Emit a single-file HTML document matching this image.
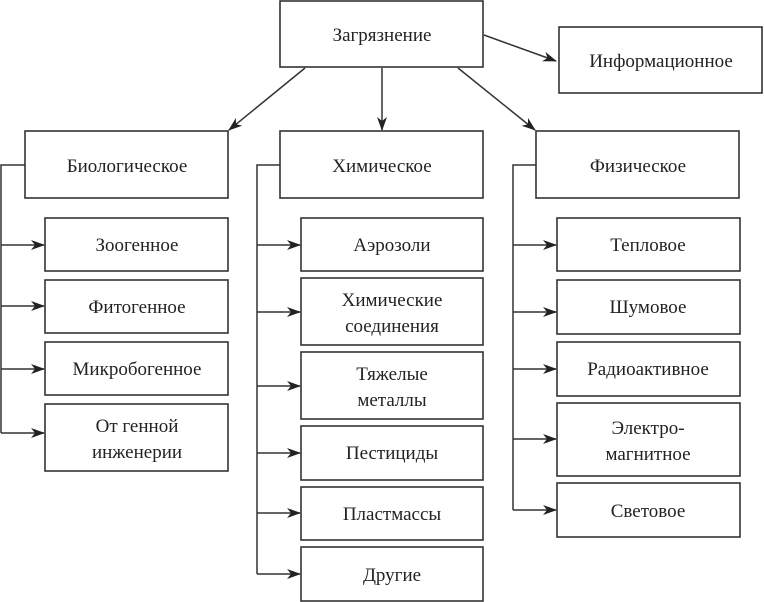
<!DOCTYPE html>
<html><head><meta charset="utf-8"><style>
html,body{margin:0;padding:0;background:#fff;}
svg{display:block;}
text{font-family:"Liberation Serif","DejaVu Serif",serif;font-size:19px;fill:#222;text-anchor:middle;}
rect{fill:#fff;stroke:#333;stroke-width:1.6;}
line,polyline{stroke:#333;stroke-width:1.5;fill:none;}
</style></head><body>
<svg width="764" height="602" viewBox="0 0 764 602" xmlns="http://www.w3.org/2000/svg">
<defs><marker id="a" markerWidth="14" markerHeight="10" refX="13" refY="5" orient="auto" markerUnits="userSpaceOnUse"><path d="M0,0 L14,5 L0,10 L4,5 Z" fill="#222"/></marker></defs>
<!-- top -->
<rect x="280" y="1" width="203" height="66"/><text x="382" y="41">Загрязнение</text>
<rect x="559" y="27" width="203" height="66"/><text x="661" y="67">Информационное</text>
<line x1="484" y1="35" x2="556" y2="61" marker-end="url(#a)"/>
<line x1="305" y1="68" x2="229" y2="130" marker-end="url(#a)"/>
<line x1="382" y1="68" x2="382" y2="130" marker-end="url(#a)"/>
<line x1="458" y1="68" x2="535" y2="130" marker-end="url(#a)"/>
<rect x="25" y="131" width="203" height="67"/><text x="127" y="172">Биологическое</text>
<rect x="280" y="131" width="203" height="67"/><text x="382" y="172">Химическое</text>
<rect x="536" y="131" width="203" height="67"/><text x="638" y="172">Физическое</text>
<!-- bio -->
<polyline points="25,165 1,165 1,433"/>
<rect x="45" y="218" width="183" height="53"/><text x="137" y="251">Зоогенное</text>
<rect x="45" y="280" width="183" height="53"/><text x="137" y="313">Фитогенное</text>
<rect x="45" y="342" width="183" height="53"/><text x="137" y="375">Микробогенное</text>
<rect x="45" y="404" width="183" height="67"/><text x="137" y="432">От генной</text><text x="137" y="458">инженерии</text>
<line x1="1" y1="245" x2="44" y2="245" marker-end="url(#a)"/>
<line x1="1" y1="306" x2="44" y2="306" marker-end="url(#a)"/>
<line x1="1" y1="369" x2="44" y2="369" marker-end="url(#a)"/>
<line x1="1" y1="433" x2="44" y2="433" marker-end="url(#a)"/>
<!-- chem -->
<polyline points="280,165 257,165 257,574"/>
<rect x="301" y="218" width="182" height="53"/><text x="392" y="251">Аэрозоли</text>
<rect x="301" y="278" width="182" height="67"/><text x="392" y="306">Химические</text><text x="392" y="332">соединения</text>
<rect x="301" y="352" width="182" height="67"/><text x="392" y="380">Тяжелые</text><text x="392" y="406">металлы</text>
<rect x="301" y="426" width="182" height="54"/><text x="392" y="459">Пестициды</text>
<rect x="301" y="487" width="182" height="53"/><text x="392" y="520">Пластмассы</text>
<rect x="301" y="547" width="182" height="54"/><text x="392" y="581">Другие</text>
<line x1="257" y1="245" x2="300" y2="245" marker-end="url(#a)"/>
<line x1="257" y1="312" x2="300" y2="312" marker-end="url(#a)"/>
<line x1="257" y1="386" x2="300" y2="386" marker-end="url(#a)"/>
<line x1="257" y1="453" x2="300" y2="453" marker-end="url(#a)"/>
<line x1="257" y1="513" x2="300" y2="513" marker-end="url(#a)"/>
<line x1="257" y1="574" x2="300" y2="574" marker-end="url(#a)"/>
<!-- phys -->
<polyline points="536,165 513,165 513,510"/>
<rect x="557" y="218" width="183" height="53"/><text x="648" y="251">Тепловое</text>
<rect x="557" y="280" width="183" height="54"/><text x="648" y="313">Шумовое</text>
<rect x="557" y="342" width="183" height="54"/><text x="648" y="375">Радиоактивное</text>
<rect x="557" y="403" width="183" height="73"/><text x="648" y="434">Электро-</text><text x="648" y="460">магнитное</text>
<rect x="557" y="483" width="183" height="54"/><text x="648" y="517">Световое</text>
<line x1="513" y1="245" x2="556" y2="245" marker-end="url(#a)"/>
<line x1="513" y1="312" x2="556" y2="312" marker-end="url(#a)"/>
<line x1="513" y1="369" x2="556" y2="369" marker-end="url(#a)"/>
<line x1="513" y1="439" x2="556" y2="439" marker-end="url(#a)"/>
<line x1="513" y1="510" x2="556" y2="510" marker-end="url(#a)"/>
</svg>
</body></html>
